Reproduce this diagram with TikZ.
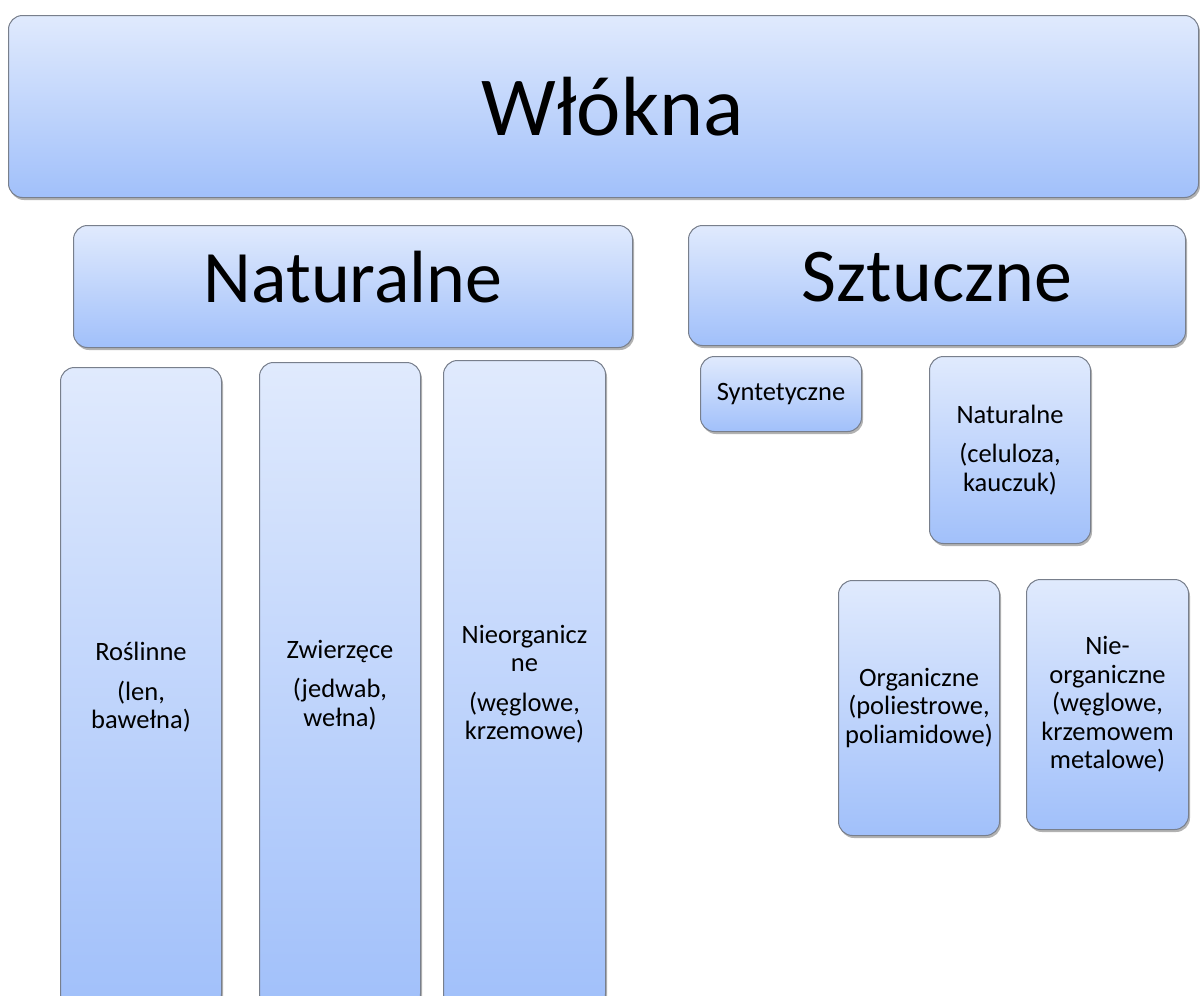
\documentclass[tikz,border=0pt]{standalone}
\usepackage{fontspec}
\setmainfont{Carlito}
\usepackage{xcolor}
\usetikzlibrary{shadows}

\definecolor{boxtop}{RGB}{224,234,253}
\definecolor{boxbottom}{RGB}{161,192,250}
\definecolor{boxline}{RGB}{120,127,140}

\begin{document}
\begin{tikzpicture}[x=1pt,y=-1pt,
  fibrebox/.style={draw=boxline, line width=1pt, rounded corners=14pt,
    top color=boxtop, bottom color=boxbottom, anchor=north west,
    inner sep=0pt, align=center,
    drop shadow={shadow xshift=1.5pt, shadow yshift=-2.5pt, opacity=0.3, fill=black}},
  smalltext/.style={font=\fontsize{26.5}{28.5}\selectfont}]
\useasboundingbox (0,0) rectangle (1200,996);

% top level
\node[fibrebox, minimum width=1190, minimum height=182,
  font=\fontsize{84}{96}\selectfont] (wlokna) at (8,15) {\hspace*{18pt}Włókna};

% second level
\node[fibrebox, minimum width=559, minimum height=122,
  font=\fontsize{74}{80}\selectfont] (naturalne) at (73,225) {\strut Naturalne};
\node[fibrebox, minimum width=497, minimum height=120,
  font=\fontsize{76}{80}\selectfont] (sztuczne) at (688,225) {\strut Sztuczne};

% natural fibres
\node[fibrebox, smalltext, minimum width=161, minimum height=640] (roslinne) at (60,367)
  {Roślinne\\[11pt](len,\\bawełna)};
\node[fibrebox, smalltext, minimum width=161, minimum height=645] (zwierzece) at (259,362)
  {Zwierzęce\\[11pt](jedwab,\\wełna)};
\node[fibrebox, smalltext, minimum width=162, minimum height=647] (nieorg) at (443,360)
  {Nieorganicz\\ne\\[11pt](węglowe,\\krzemowe)};

% man-made fibres
\node[fibrebox, smalltext, minimum width=161, minimum height=75] (syntet) at (700,356)
  {Syntetyczne};
\node[fibrebox, smalltext, minimum width=161, minimum height=187] (natsztuczne) at (929,356)
  {Naturalne\\[11pt](celuloza,\\kauczuk)};
\node[fibrebox, smalltext, minimum width=161, minimum height=255] (organiczne) at (838,580)
  {Organiczne\\(poliestrowe,\\poliamidowe)};
\node[fibrebox, smalltext, minimum width=162, minimum height=250] (nieorgsz) at (1026,579)
  {Nie-\\organiczne\\(węglowe,\\krzemowem\\metalowe)};
\end{tikzpicture}
\end{document}
